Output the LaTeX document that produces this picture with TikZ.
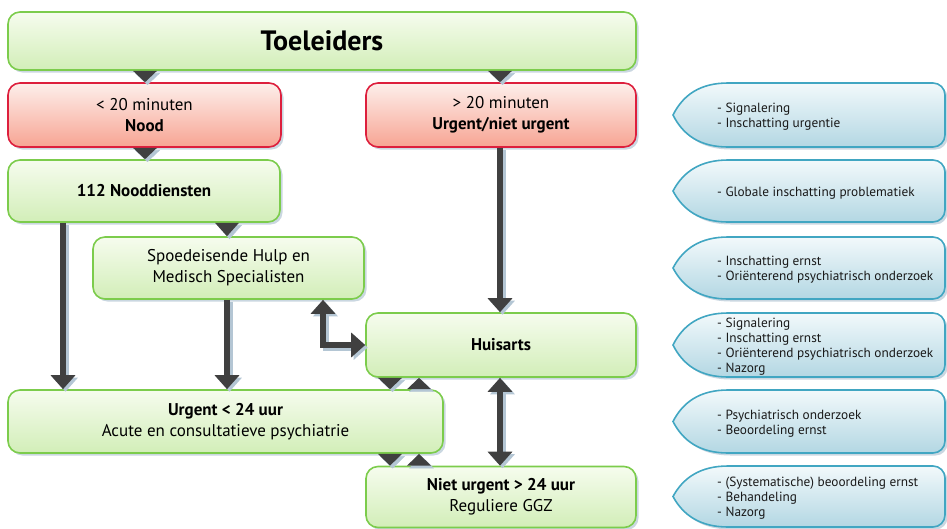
\documentclass[tikz,border=0pt]{standalone}
\usepackage{fontspec}
\setmainfont{PT Sans}
\usetikzlibrary{arrows.meta,shadows,calc}
\definecolor{gborder}{HTML}{7CCC4C}
\definecolor{gtop}{HTML}{F6FCEE}
\definecolor{gbot}{HTML}{D2EEB8}
\definecolor{rborder}{HTML}{DD1F3D}
\definecolor{rtop}{HTML}{FDEFEB}
\definecolor{rbot}{HTML}{F7A493}
\definecolor{bborder}{HTML}{41A6C2}
\definecolor{btop}{HTML}{F2F9FB}
\definecolor{bbot}{HTML}{B3D7E3}
\definecolor{arrc}{HTML}{404040}
\definecolor{shc}{HTML}{B4C6D4}
\tikzset{
  gbox/.style={draw=gborder, line width=1.6pt, rounded corners=12pt, top color=gtop, bottom color=gbot,
    drop shadow={shadow xshift=2.5pt, shadow yshift=-2.5pt, fill=shc, opacity=0.7},
    align=center, inner sep=0pt, font=\fontsize{17}{21}\selectfont, text=black},
  rbox/.style={gbox, draw=rborder, top color=rtop, bottom color=rbot},
  callout/.style={draw=bborder, line width=1.6pt, top color=btop, bottom color=bbot,
    drop shadow={shadow xshift=2.5pt, shadow yshift=-2.5pt, fill=shc, opacity=0.7}},
  ctext/.style={anchor=west, align=left, inner sep=0pt, text=black!90, font=\fontsize{13.3}{15}\selectfont},
  arr/.style={draw=arrc, line width=6pt, -{Triangle[width=24pt,length=14pt]}},
  darr/.style={draw=arrc, line width=6pt, {Triangle[width=24pt,length=14pt]}-{Triangle[width=24pt,length=14pt]}},
  sh/.style={draw=shc, fill=shc, transform canvas={shift={(2.5pt,-2.5pt)}}},
  shl/.style={draw=shc, transform canvas={shift={(2.5pt,-2.5pt)}}},
}
\newcommand\mycallout[4]{%
  \path[callout] (673,{(#1+#2)/2}) .. controls (683,{#1+12}) and (700,#1) .. (728,#1)
    [rounded corners=12pt] -- (945,#1) -- (945,#2) [sharp corners] -- (728,#2)
    .. controls (700,#2) and (683,{#2-12}) .. cycle;
  \node[ctext] (#4) at (717,{(#1+#2)/2+2}) {#3};}
\newcommand\mytri[3]{% node a, node b, x : pointing down
  \fill[sh] (#1.south -| {#3-12},0) -- (#1.south -| {#3+12},0) -- (#2.north -| #3,0) -- cycle;
  \fill[arrc] (#1.south -| {#3-12},0) -- (#1.south -| {#3+12},0) -- (#2.north -| #3,0) -- cycle;}
\newcommand\mytriup[3]{% pointing up
  \fill[sh] (#2.north -| {#3-12},0) -- (#2.north -| {#3+12},0) -- (#1.south -| #3,0) -- cycle;
  \fill[arrc] (#2.north -| {#3-12},0) -- (#2.north -| {#3+12},0) -- (#1.south -| #3,0) -- cycle;}
\begin{document}
\begin{tikzpicture}[x=1pt,y=-1pt]
\useasboundingbox (0,0) rectangle (947,528);
% boxes
\node[gbox, minimum width=628pt, minimum height=58pt, font=\fontsize{28}{30}\selectfont\bfseries] (tol) at (322,41) {Toeleiders};
\node[rbox, minimum width=273pt, minimum height=64pt] (nood) at (144.5,115) {< 20 minuten\\\textbf{Nood}};
\node[rbox, minimum width=270pt, minimum height=64pt] (u20) at (501,115) {> 20 minuten\\\textbf{Urgent/niet urgent}};
\node[gbox, minimum width=272pt, minimum height=62pt, font=\fontsize{17}{21}\selectfont\bfseries] (n112) at (144,191) {112 Nooddiensten};
\node[gbox, minimum width=271pt, minimum height=62pt] (seh) at (228.5,268) {Spoedeisende Hulp en\\Medisch Specialisten};
\node[gbox, minimum width=270pt, minimum height=64pt, font=\fontsize{17}{21}\selectfont\bfseries] (huis) at (501,345) {Huisarts};
\node[gbox, minimum width=435pt, minimum height=63pt] (u24) at (225.5,421.5) {\textbf{Urgent < 24 uur}\\Acute en consultatieve psychiatrie};
\node[gbox, minimum width=270pt, minimum height=61pt] (niet) at (501,497) {\textbf{Niet urgent > 24 uur}\\Reguliere GGZ};
% callouts
\mycallout{83}{147}{- Signalering\\- Inschatting urgentie}{c1}
\mycallout{160}{222}{- Globale inschatting problematiek}{c2}
\mycallout{237}{299}{- Inschatting ernst\\- Oriënterend psychiatrisch onderzoek}{c3}
\mycallout{313}{377}{- Signalering\\- Inschatting ernst\\- Oriënterend psychiatrisch onderzoek\\- Nazorg}{c4}
\mycallout{390}{453}{- Psychiatrisch onderzoek\\- Beoordeling ernst}{c5}
\mycallout{466}{527}{- (Systematische) beoordeling ernst\\- Behandeling\\- Nazorg}{c6}
% triangles
\mytri{tol}{nood}{145}
\mytri{tol}{u20}{500}
\mytri{nood}{n112}{145}
\mytri{n112}{seh}{227}
\mytri{huis}{u24}{390}
\mytriup{huis}{u24}{419}
\mytri{u24}{niet}{390}
\mytriup{u24}{niet}{419}
% arrows (shadows)
\draw[arr, shl] (u20.south -| 500,0) -- (huis.north -| 500,0);
\draw[arr, shl] (n112.south -| 63,0) -- (u24.north -| 63,0);
\draw[arr, shl] (seh.south -| 227,0) -- (u24.north -| 227,0);
\draw[darr, shl] (seh.south -| 323,0) |- (huis.west);
\draw[darr, shl] (huis.south -| 500,0) -- (niet.north -| 500,0);
% arrows
\draw[arr] (u20.south -| 500,0) -- (huis.north -| 500,0);
\draw[arr] (n112.south -| 63,0) -- (u24.north -| 63,0);
\draw[arr] (seh.south -| 227,0) -- (u24.north -| 227,0);
\draw[darr] (seh.south -| 323,0) |- (huis.west);
\draw[darr] (huis.south -| 500,0) -- (niet.north -| 500,0);
\end{tikzpicture}
\end{document}
